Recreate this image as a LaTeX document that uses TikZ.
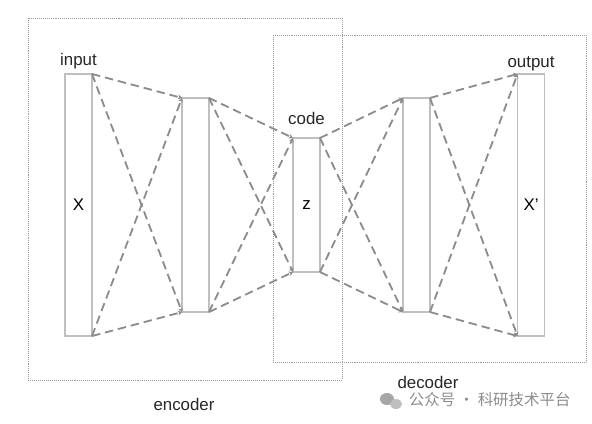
\documentclass[tikz,border=0pt]{standalone}
\usepackage{fontspec}
\setmainfont{Liberation Sans}
\newfontfamily\cjk{Noto Sans CJK SC}
\usetikzlibrary{arrows.meta}
\tikzset{
  layer/.style={draw=black!25, line width=1.4pt, minimum width=0.675cm, inner sep=0pt, outer sep=0pt, font=\fontsize{12}{14}\selectfont},
  link/.style={draw=black!45, line width=1.3pt, dash pattern=on 6pt off 3.5pt, -{Stealth[length=3pt,width=3.5pt]}},
  groupbox/.style={draw=black!40, line width=0.4pt, densely dotted},
  lbl/.style={font=\fontsize{12}{14}\selectfont, text=black!85, inner sep=1pt}
}
\begin{document}
\begin{tikzpicture}[x=0.025cm,y=-0.025cm]
  \useasboundingbox (0,0) rectangle (592,423);
  % encoder and decoder frames
  \draw[groupbox] (28,18) rectangle (342,380);
  \draw[groupbox] (273,35) rectangle (586,362);
  % layers
  \node[layer, minimum height=6.55cm] (inp) at (78.5,205) {X};
  \node[layer, minimum height=5.35cm] (hidA) at (195.5,205) {};
  \node[layer, minimum height=3.35cm] (code) at (306.5,205) {z};
  \node[layer, minimum height=5.35cm] (hidB) at (416.5,205) {};
  \node[layer, minimum height=6.55cm] (outp) at (531,205) {X'};
  % dashed links
  \foreach \a/\b in {inp/hidA, hidA/code, code/hidB, hidB/outp} {
    \draw[link] (\a.north east) -- (\b.north west);
    \draw[link] (\a.north east) -- (\b.south west);
    \draw[link] (\a.south east) -- (\b.north west);
    \draw[link] (\a.south east) -- (\b.south west);
  }
  % labels
  \node[lbl, anchor=south] (inplbl) at ([yshift=2pt]inp.north) {input};
  \node[lbl, anchor=south] (codelbl) at ([yshift=8pt]code.north) {code};
  \node[lbl, anchor=south] (outplbl) at ([yshift=1pt]outp.north) {output};
  \node[lbl] (enclbl) at (184,404) {encoder};
  \node[lbl] (declbl) at (428,382) {decoder};
  % watermark
  \fill[black!35] (387,399) ellipse (7 and 6);
  \fill[black!25] (396,404) ellipse (6 and 5);
  \node[text=black!45, font=\cjk\fontsize{11}{13}\selectfont, anchor=west] (mark) at (404,400) {公众号 · 科研技术平台};
\end{tikzpicture}
\end{document}
